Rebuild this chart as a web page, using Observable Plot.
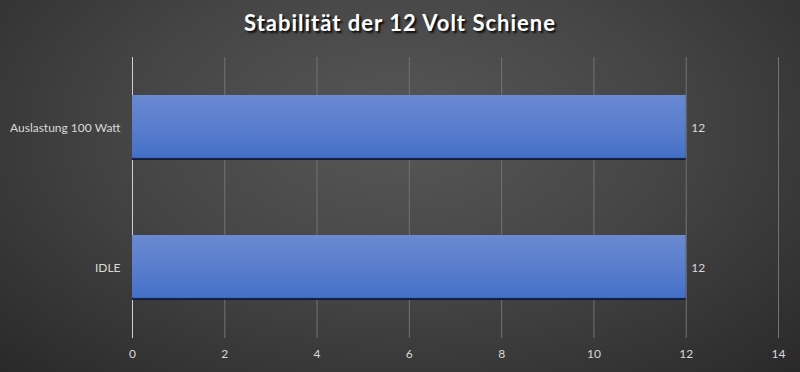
<!DOCTYPE html>
<html>
<head>
<meta charset="utf-8">
<script src="https://cdn.jsdelivr.net/npm/d3@7"></script>
<script src="https://cdn.jsdelivr.net/npm/@observablehq/plot@0.6"></script>
<style>
  html, body { margin: 0; padding: 0; }
  #chart {
    width: 800px; height: 372px; position: relative; overflow: hidden;
    background: radial-gradient(ellipse 75% 95% at 50% 35%, #575757 0%, #454545 45%, #2f2f2f 85%, #262626 100%);
    font-family: Lato, "Open Sans", sans-serif;
  }
  #title {
    height: 46px; line-height: 46px; text-align: center;
    color: #ffffff; font-size: 22px; font-weight: bold; letter-spacing: 1px;
    text-shadow: 2px 2px 2px rgba(0,0,0,0.85);
  }
  svg { display: block; }
</style>
</head>
<body>
<div id="chart"><div id="title">Stabilität der 12 Volt Schiene</div></div>
<script>
const categories = ["Auslastung 100 Watt", "IDLE"];
const values = [12, 12];
const xTicks = [0, 2, 4, 6, 8, 10, 12, 14];

const data = categories.map((c, i) => ({cat: c, value: values[i]}));

const plot = Plot.plot({
  width: 800,
  height: 326,
  marginTop: 11,
  marginBottom: 34,
  marginLeft: 132,
  marginRight: 22,
  style: {background: "transparent", color: "#d9d9d9", fontFamily: "Lato, 'Open Sans', sans-serif", fontSize: "12px"},
  x: {domain: [0, 14], ticks: xTicks},
  y: {domain: categories, paddingInner: 0.537, paddingOuter: 0.269},
  marks: [
    Plot.ruleX(xTicks.filter(d => d !== 0), {stroke: "#737373", strokeWidth: 1}),
    Plot.ruleX([0], {stroke: "#d0d0d0", strokeWidth: 1}),
    Plot.barX(data, {y: "cat", x: "value", fill: "url(#barGrad)"}),
    Plot.text(data, {y: "cat", x: "value", text: d => String(d.value), textAnchor: "start", dx: 5, fill: "#d9d9d9", fontSize: 12}),
    Plot.axisX({ticks: xTicks, tickSize: 0, tickPadding: 11, label: null, fill: "#d9d9d9"}),
    Plot.axisY({tickSize: 0, tickPadding: 12, label: null, fill: "#d9d9d9"})
  ]
});

const svg = d3.select(plot);
const defs = svg.insert("defs", ":first-child");
const g = defs.append("linearGradient").attr("id", "barGrad").attr("x1", 0).attr("y1", 0).attr("x2", 0).attr("y2", 1);
[["0%", "#6b8ad2"], ["4%", "#6888d1"], ["50%", "#5a7ecd"], ["96%", "#4470c8"], ["97%", "#1a2b58"], ["100%", "#0c1634"]]
  .forEach(([o, c]) => g.append("stop").attr("offset", o).attr("stop-color", c));

document.getElementById("chart").appendChild(plot);
</script>
</body>
</html>
